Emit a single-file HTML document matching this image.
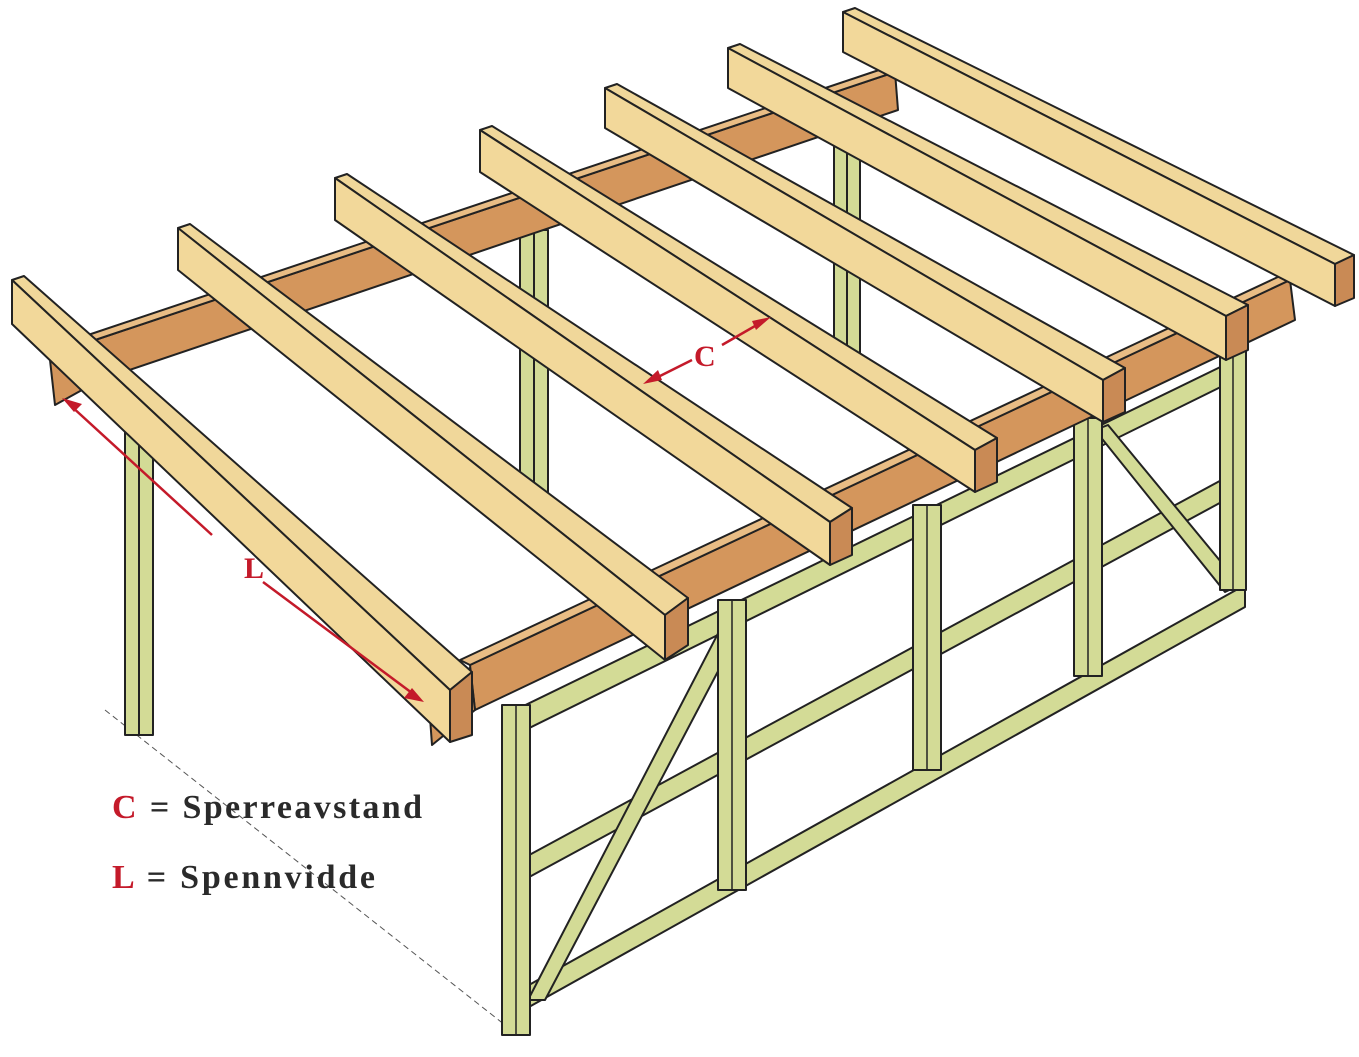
<!DOCTYPE html>
<html><head><meta charset="utf-8"><style>
html,body{margin:0;padding:0;background:#fff;}
svg{display:block;}
</style></head><body>
<svg width="1359" height="1057" viewBox="0 0 1359 1057" xmlns="http://www.w3.org/2000/svg">
<g stroke="#222" stroke-width="2" stroke-linejoin="round">
<line x1="105" y1="710" x2="505" y2="1025" stroke="#555" stroke-width="1" stroke-dasharray="6,4"/>
<rect x="125" y="420" width="28" height="315" fill="#d3db96"/>
<line x1="139" y1="420" x2="139" y2="735"/>
<rect x="520" y="230" width="28" height="265" fill="#d3db96"/>
<line x1="534" y1="230" x2="534" y2="495"/>
<rect x="834" y="130" width="26" height="230" fill="#d3db96"/>
<line x1="847" y1="130" x2="847" y2="360"/>
<polygon points="95,340 895,72 898,110 100,380" fill="#d4965c"/>
<polygon points="95,340 895,72 885,68 85,336" fill="#e9bd85"/>
<polygon points="50,360 95,345 100,380 55,405" fill="#d4965c"/>
<g fill="#d3db96">
<polygon points="505,715 1245,355 1245,375 505,740"/>
<polygon points="520,860 1240,470 1240,492 520,882"/>
<polygon points="520,990 1245,585 1245,607 520,1012"/>
<polygon points="528,1000 725,620 745,620 545,1000"/>
<polygon points="1095,430 1108,425 1240,585 1225,592"/>
<rect x="502" y="705" width="28" height="330"/>
<rect x="718" y="600" width="28" height="290"/>
<rect x="913" y="505" width="28" height="265"/>
<rect x="1074" y="418" width="28" height="258"/>
<rect x="1220" y="350" width="26" height="240"/>
</g>
<g stroke-width="1.5">
<line x1="516" y1="705" x2="516" y2="1035"/>
<line x1="732" y1="600" x2="732" y2="890"/>
<line x1="927" y1="505" x2="927" y2="770"/>
<line x1="1088" y1="418" x2="1088" y2="676"/>
<line x1="1233" y1="350" x2="1233" y2="590"/>
</g>
<polygon points="470,665 1290,280 1295,320 475,710" fill="#d4965c"/>
<polygon points="470,665 1290,280 1280,276 460,660" fill="#e9bd85"/>
<polygon points="428,690 470,668 475,710 432,745" fill="#d4965c"/>
<g>
<polygon points="12,280 24,276 472,672 450,690" fill="#f0d79a"/>
<polygon points="12,280 450,690 450,742 12,324" fill="#f2d89a"/>
<polygon points="450,690 472,672 472,735 450,742" fill="#c98a55"/>

<polygon points="178,228 190,224 688,598 665,615" fill="#f0d79a"/>
<polygon points="178,228 665,615 665,660 178,270" fill="#f2d89a"/>
<polygon points="665,615 688,598 688,645 665,660" fill="#c98a55"/>

<polygon points="335,178 347,174 852,508 830,522" fill="#f0d79a"/>
<polygon points="335,178 830,522 830,565 335,220" fill="#f2d89a"/>
<polygon points="830,522 852,508 852,555 830,565" fill="#c98a55"/>

<polygon points="480,130 492,126 997,438 975,450" fill="#f0d79a"/>
<polygon points="480,130 975,450 975,492 480,172" fill="#f2d89a"/>
<polygon points="975,450 997,438 997,482 975,492" fill="#c98a55"/>

<polygon points="605,88 617,84 1125,368 1103,380" fill="#f0d79a"/>
<polygon points="605,88 1103,380 1103,422 605,128" fill="#f2d89a"/>
<polygon points="1103,380 1125,368 1125,412 1103,422" fill="#c98a55"/>

<polygon points="728,48 740,44 1248,305 1226,316" fill="#f0d79a"/>
<polygon points="728,48 1226,316 1226,360 728,88" fill="#f2d89a"/>
<polygon points="1226,316 1248,305 1248,350 1226,360" fill="#c98a55"/>

<polygon points="843,12 855,8 1354,255 1335,264" fill="#f0d79a"/>
<polygon points="843,12 1335,264 1335,306 843,52" fill="#f2d89a"/>
<polygon points="1335,264 1354,255 1354,298 1335,306" fill="#c98a55"/>
</g>
</g>
<g stroke="#c41a2a" stroke-width="2.5" fill="#c41a2a">
<line x1="70" y1="405" x2="212" y2="535"/>
<polygon points="62,398 82,404 74,412" stroke="none"/>
<line x1="263" y1="582" x2="412" y2="693"/>
<polygon points="424,702 404,698 412,688" stroke="none"/>
<line x1="652" y1="380" x2="692" y2="360"/>
<polygon points="643,384 658,370 662,380" stroke="none"/>
<line x1="722" y1="345" x2="762" y2="322"/>
<polygon points="771,317 756,330 752,321" stroke="none"/>
</g>
<g font-family="Liberation Serif, serif" font-weight="bold" fill="#c41a2a" font-size="30">
<text x="244" y="578">L</text>
<text x="694" y="366">C</text>
</g>
<g font-family="Liberation Serif, serif" font-weight="bold" font-size="34">
<text x="112" y="818" textLength="310" lengthAdjust="spacing"><tspan fill="#c41a2a">C</tspan><tspan fill="#2a2a2a"> = Sperreavstand</tspan></text>
<text x="112" y="888" textLength="263" lengthAdjust="spacing"><tspan fill="#c41a2a">L</tspan><tspan fill="#2a2a2a"> = Spennvidde</tspan></text>
</g>
</svg>
</body></html>
